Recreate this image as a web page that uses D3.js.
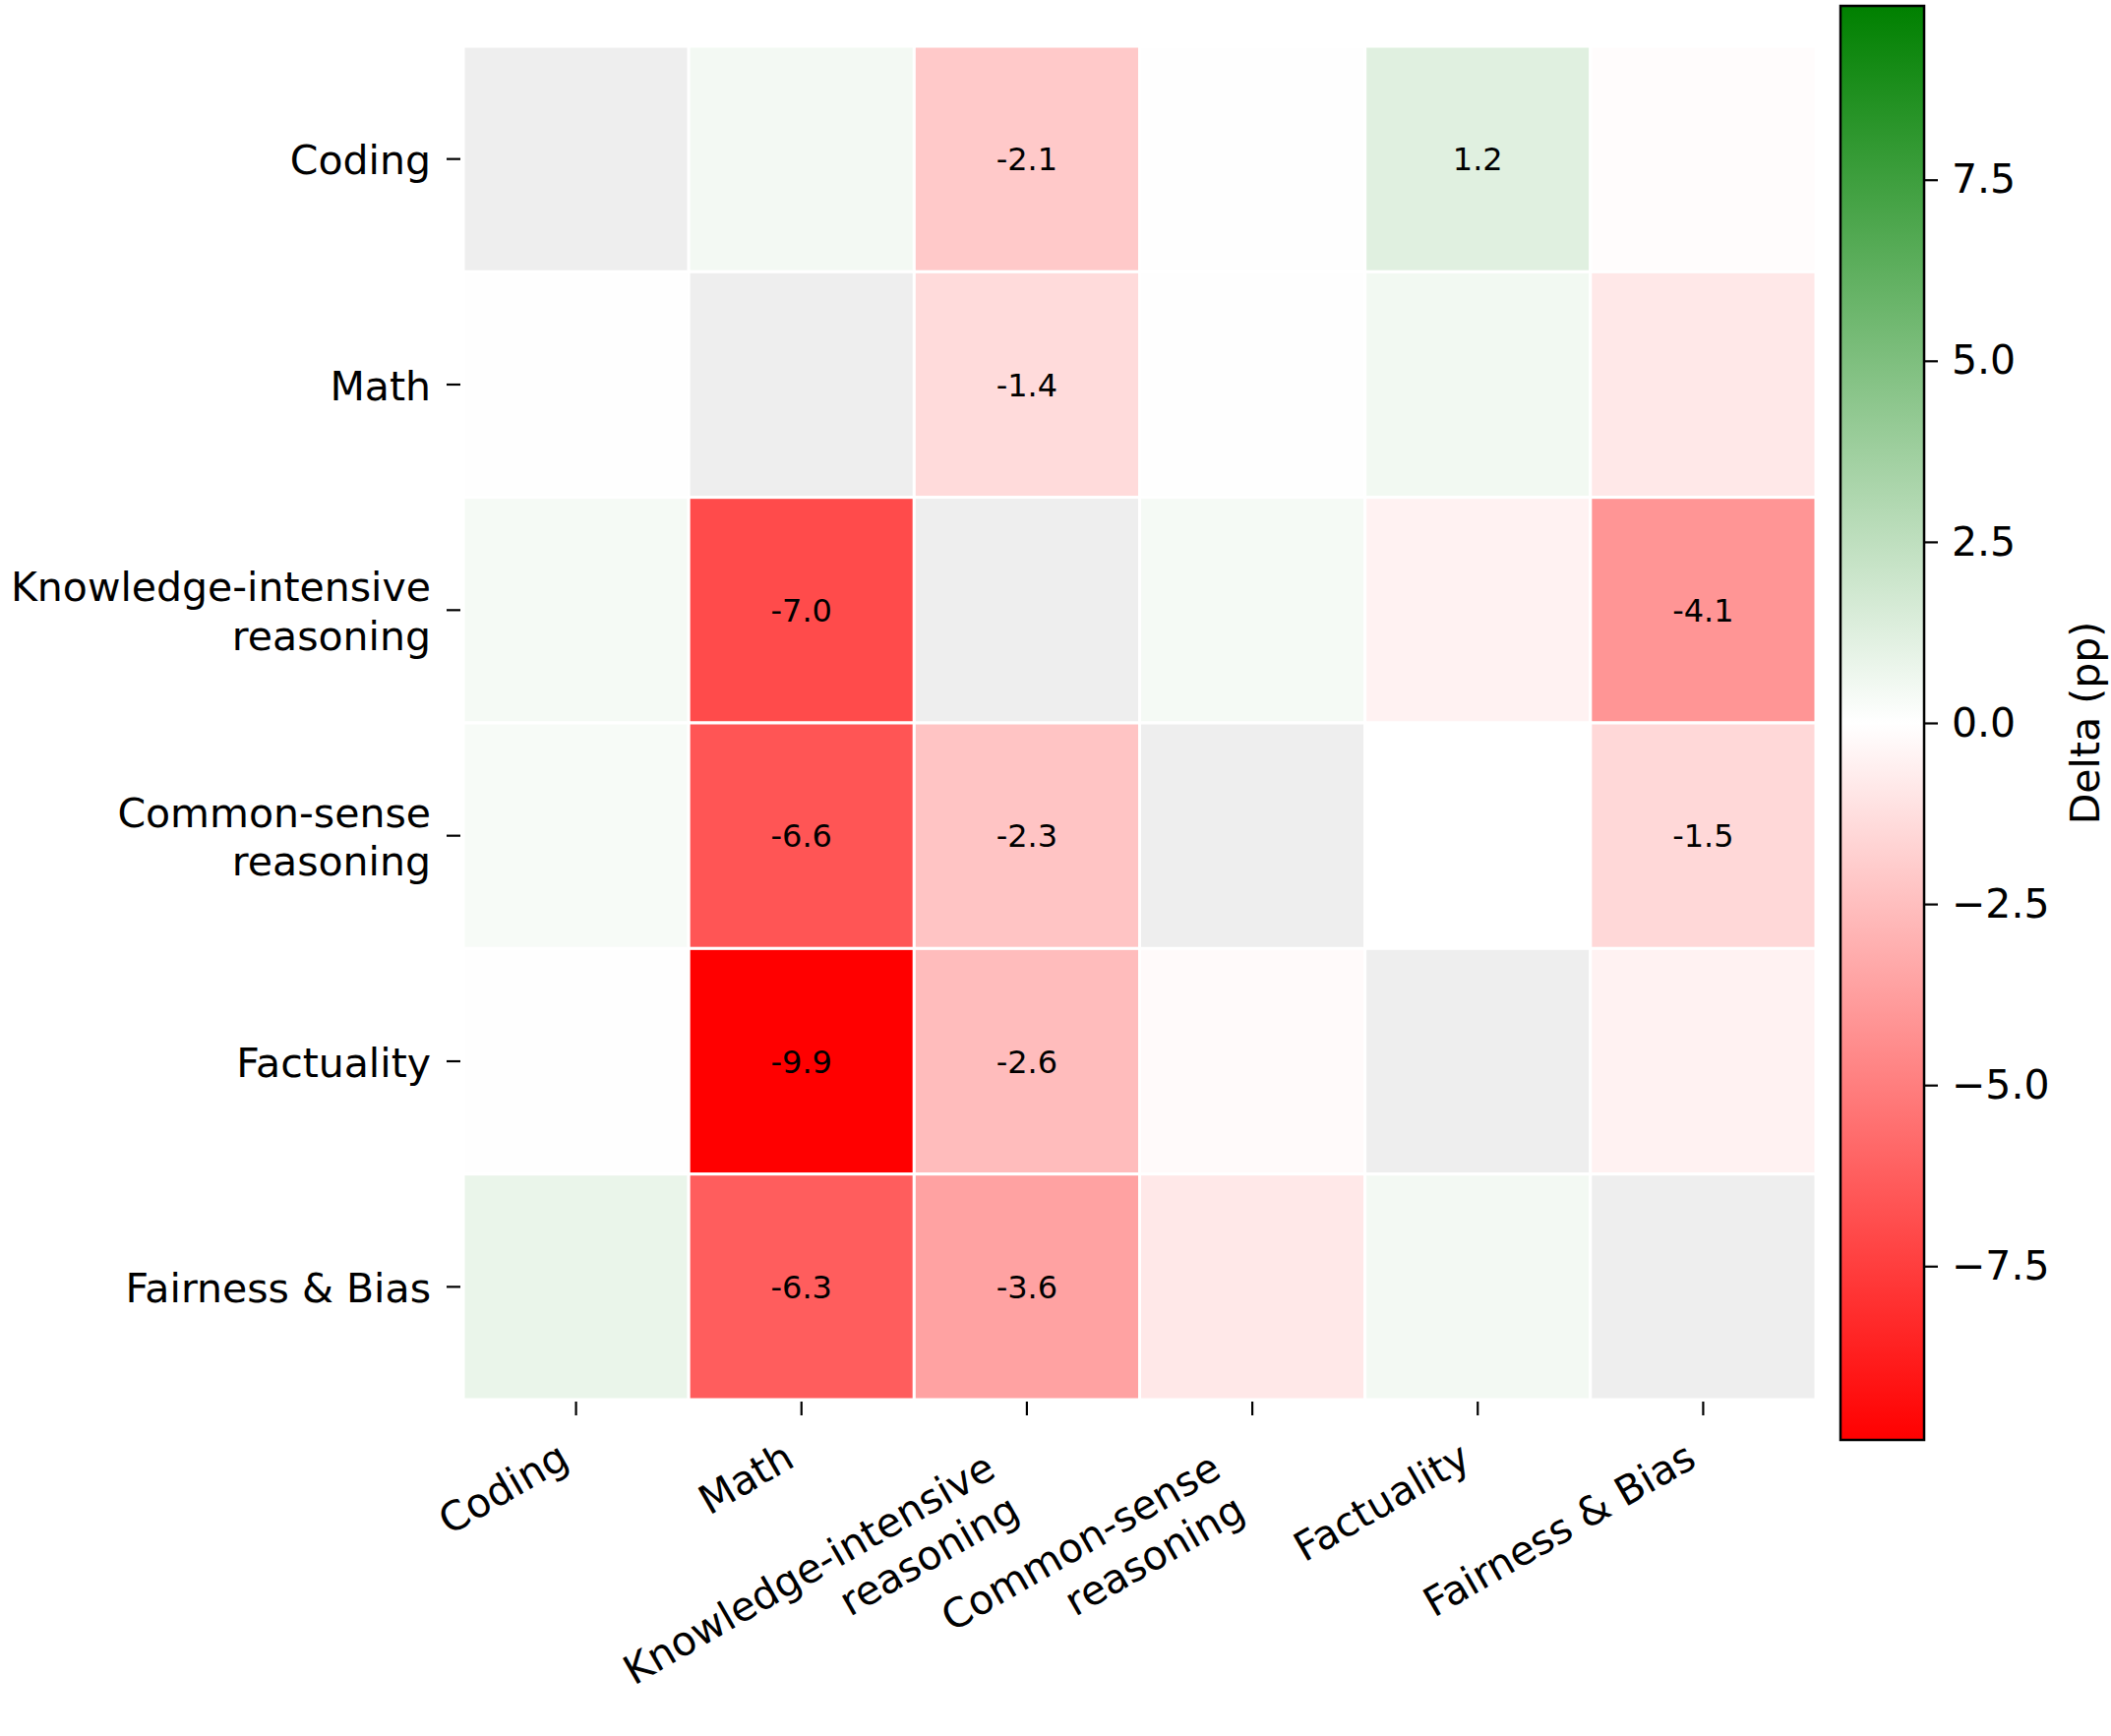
<!DOCTYPE html>
<html>
<head>
<meta charset="utf-8">
<script src="https://cdn.jsdelivr.net/npm/d3@7"></script>
<style>
  body { margin: 0; background: #fff; }
  text { font-family: "DejaVu Sans", sans-serif; fill: #000; }
</style>
</head>
<body>
<div id="chart"></div>
<script>
// data
var rowLabels = ["Coding", "Math", "Knowledge-intensive\nreasoning", "Common-sense\nreasoning", "Factuality", "Fairness & Bias"];
var colLabels = ["Coding", "Math", "Knowledge-intensive\nreasoning", "Common-sense\nreasoning", "Factuality", "Fairness & Bias"];

// delta (pp), row by row; null = diagonal (no value)
var rowCoding     = [null, 0.45, -2.1, 0.05, 1.2, -0.1];
var rowMath       = [0.05, null, -1.4, 0.05, 0.5, -0.9];
var rowKnowledge  = [0.4, -7.0, null, 0.4, -0.5, -4.1];
var rowCommon     = [0.3, -6.6, -2.3, null, 0.0, -1.5];
var rowFactuality = [0.05, -9.9, -2.6, -0.2, null, -0.5];
var rowFairness   = [0.8, -6.3, -3.6, -0.9, 0.45, null];
var values = [rowCoding, rowMath, rowKnowledge, rowCommon, rowFactuality, rowFairness];

var colorTicks = [-7.5, -5.0, -2.5, 0.0, 2.5, 5.0, 7.5];
var vMin = -9.9, vMax = 9.9;

var svgWidth = 2146;
var svgHeight = 1765;
var fs = 41;       // label font size
var annFs = 32;    // annotation font size

var svg = d3.select("#chart").append("svg")
    .attr("width", svgWidth)
    .attr("height", svgHeight);

// scales
var x = d3.scaleBand().domain(d3.range(colLabels.length)).range([471, 1846]);
var y = d3.scaleBand().domain(d3.range(rowLabels.length)).range([47, 1423]);
var color = d3.scaleLinear().domain([vMin, 0, vMax]).range(["#ff0000", "#ffffff", "#008000"]);

// cells
var cells = [];
values.forEach(function(row, i) {
  row.forEach(function(v, j) { cells.push({ r: i, c: j, v: v }); });
});

svg.append("g").selectAll("rect")
  .data(cells)
  .enter()
  .append("rect")
  .attr("x", d => x(d.c))
  .attr("y", d => y(d.r))
  .attr("width", x.bandwidth())
  .attr("height", y.bandwidth())
  .attr("fill", d => d.v === null ? "#eeeeee" : color(d.v))
  .attr("stroke", "#ffffff")
  .attr("stroke-width", 3);

// annotations (only |delta| >= 1)
svg.append("g").selectAll("text")
  .data(cells.filter(d => d.v !== null && Math.abs(d.v) >= 1))
  .enter()
  .append("text")
  .attr("x", d => x(d.c) + x.bandwidth() / 2)
  .attr("y", d => y(d.r) + y.bandwidth() / 2)
  .attr("dy", "0.36em")
  .attr("text-anchor", "middle")
  .style("font-size", annFs + "px")
  .text(d => d.v.toFixed(1));

// y axis
var yAxis = d3.axisLeft(y).tickSize(14).tickFormat("");
var yG = svg.append("g").attr("transform", "translate(468,0)").call(yAxis);
yG.select(".domain").remove();
yG.selectAll(".tick line").attr("stroke-width", 2.2);

rowLabels.forEach(function(lab, i) {
  var lines = lab.split("\n");
  var cy = y(i) + y.bandwidth() / 2;
  var t = svg.append("text")
    .attr("text-anchor", "end")
    .style("font-size", fs + "px");
  lines.forEach(function(line, k) {
    t.append("tspan")
      .attr("x", 438)
      .attr("y", cy + (k - (lines.length - 1) / 2) * 1.2 * fs + 0.38 * fs)
      .text(line);
  });
});

// x axis
var xAxis = d3.axisBottom(x).tickSize(14).tickFormat("");
var xG = svg.append("g").attr("transform", "translate(0,1425)").call(xAxis);
xG.select(".domain").remove();
xG.selectAll(".tick line").attr("stroke-width", 2.2);

colLabels.forEach(function(lab, j) {
  var lines = lab.split("\n");
  var cx = x(j) + x.bandwidth() / 2;
  var h = fs * (1.5 * (lines.length - 1) + 1.05);
  var top = 1425 + 14 + 22;
  var g = svg.append("g")
    .attr("transform", "translate(" + cx + "," + (top + h * 0.866) + ") rotate(-30)");
  var t = g.append("text")
    .attr("text-anchor", "end")
    .style("font-size", fs + "px");
  lines.forEach(function(line, k) {
    t.append("tspan")
      .attr("x", 0)
      .attr("y", -0.24 * fs - 1.2 * fs * (lines.length - 1 - k))
      .text(line);
  });
});

// colorbar
var cbX = 1871, cbW = 85, cbTop = 6, cbBottom = 1464;
var cbScale = d3.scaleLinear().domain([vMin, vMax]).range([cbBottom, cbTop]);

var grad = svg.append("defs").append("linearGradient")
  .attr("id", "cbGrad")
  .attr("x1", "0").attr("y1", "1").attr("x2", "0").attr("y2", "0");
grad.selectAll("stop")
  .data([vMin, 0, vMax])
  .enter()
  .append("stop")
  .attr("offset", d => (d - vMin) / (vMax - vMin))
  .attr("stop-color", d => color(d));

svg.append("rect")
  .attr("x", cbX).attr("y", cbTop)
  .attr("width", cbW).attr("height", cbBottom - cbTop)
  .attr("fill", "url(#cbGrad)")
  .attr("stroke", "#000")
  .attr("stroke-width", 2.5);

var cbAxis = d3.axisRight(cbScale).tickValues(colorTicks).tickSize(14).tickPadding(14).tickFormat(d3.format(".1f"));
var cbG = svg.append("g").attr("transform", "translate(" + (cbX + cbW) + ",0)").call(cbAxis);
cbG.select(".domain").remove();
cbG.selectAll(".tick line").attr("stroke-width", 2.2);
cbG.selectAll(".tick text")
  .style("font-size", fs + "px")
  .style("font-family", "DejaVu Sans");

svg.append("text")
  .attr("transform", "translate(2119," + ((cbTop + cbBottom) / 2) + ") rotate(-90)")
  .attr("text-anchor", "middle")
  .attr("dy", "0.36em")
  .style("font-size", fs + "px")
  .text("Delta (pp)");
</script>
</body>
</html>
